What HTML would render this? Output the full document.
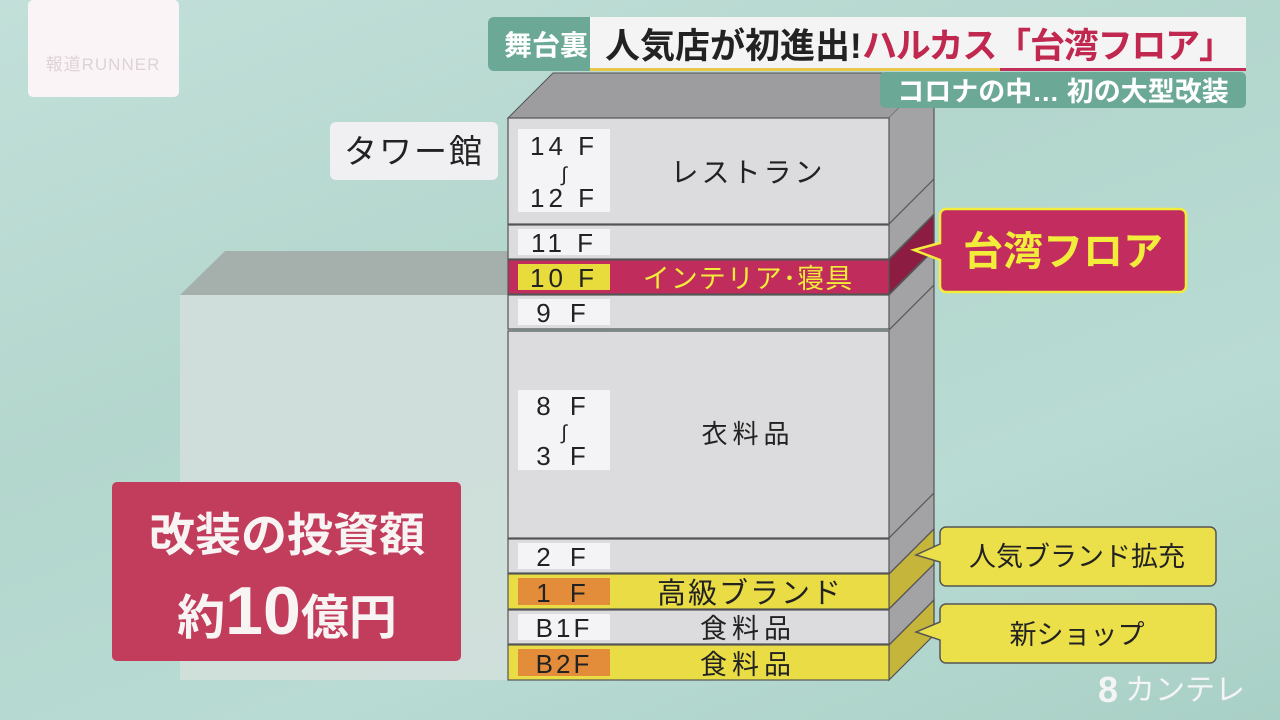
<!DOCTYPE html>
<html><head><meta charset="utf-8"><style>
html,body{margin:0;padding:0;width:1280px;height:720px;overflow:hidden;}
body{background:linear-gradient(160deg,#c2e0d9 0%,#b3d6cd 40%,#b8dbd3 70%,#a9d0c6 100%);}
svg{position:absolute;left:0;top:0;}
text{font-family:"Liberation Sans","Noto Sans CJK JP",sans-serif;}
</style></head><body>
<svg width="1280" height="720" viewBox="0 0 1280 720">
<rect x="28" y="0" width="151" height="97" rx="5" fill="#fbf4f6"/>
<text x="103" y="70" font-size="17" fill="#ddd3d6" text-anchor="middle" letter-spacing="1">報道RUNNER</text>
<polygon points="180,295 225,251 508,251 508,295" fill="#a5b0ad"/>
<rect x="180" y="295" width="328" height="385" fill="#d3dfdc" opacity="0.85"/>
<polygon points="508,118 553,73 934,73 889,118" fill="#9d9c9f" stroke="#555" stroke-width="1"/>
<polygon points="889,118 934,73 934,635 889,680" fill="#a3a2a5"/>
<g stroke="#555" stroke-width="1.2">
<polygon points="889,260 934,215 934,249 889,294" fill="#8c1c42"/>
<polygon points="889,574 934,529 934,564 889,609" fill="#c5b53a"/>
<polygon points="889,645 934,600 934,635 889,680" fill="#c5b53a"/>
<line x1="889" y1="224" x2="934" y2="179"/>
<line x1="889" y1="259" x2="934" y2="214"/>
<line x1="889" y1="295" x2="934" y2="250"/>
<line x1="889" y1="330" x2="934" y2="285"/>
<line x1="889" y1="538" x2="934" y2="493"/>
<line x1="889" y1="574" x2="934" y2="529"/>
<line x1="889" y1="609" x2="934" y2="564"/>
<line x1="889" y1="645" x2="934" y2="600"/>
<line x1="934" y1="73" x2="934" y2="635"/>
<rect x="508" y="118" width="381" height="106" fill="#dcdbdd"/>
<rect x="508" y="225" width="381" height="34" fill="#dcdbdd"/>
<rect x="508" y="260" width="381" height="34" fill="#c02c5c"/>
<rect x="508" y="295" width="381" height="34" fill="#dcdbdd"/>
<rect x="508" y="331" width="381" height="207" fill="#dcdbdd"/>
<rect x="508" y="539" width="381" height="34" fill="#dcdbdd"/>
<rect x="508" y="574" width="381" height="35" fill="#e9dc45"/>
<rect x="508" y="610" width="381" height="34" fill="#dcdbdd"/>
<rect x="508" y="645" width="381" height="35" fill="#e9dc45"/>
</g>
<g font-size="26" fill="#222" text-anchor="middle">
<rect x="518" y="129" width="92" height="83" fill="#f4f4f6"/>
<text x="564" y="155" letter-spacing="4">14 F</text><text x="564" y="181" font-size="20">∫</text><text x="564" y="207" letter-spacing="4">12 F</text>
<rect x="518" y="229" width="92" height="26" fill="#f4f4f6"/><text x="564" y="252" letter-spacing="4">11 F</text>
<rect x="518" y="264" width="92" height="26" fill="#e8dc3c"/><text x="564" y="287" letter-spacing="4">10 F</text>
<rect x="518" y="299" width="92" height="26" fill="#f4f4f6"/><text x="564" y="322" letter-spacing="6">9 F</text>
<rect x="518" y="390" width="92" height="80" fill="#f4f4f6"/>
<text x="564" y="415" letter-spacing="6">8 F</text><text x="564" y="439" font-size="20">∫</text><text x="564" y="465" letter-spacing="6">3 F</text>
<rect x="518" y="543" width="92" height="26" fill="#f4f4f6"/><text x="564" y="566" letter-spacing="6">2 F</text>
<rect x="518" y="578" width="92" height="27" fill="#e38d3b"/><text x="564" y="602" letter-spacing="6">1 F</text>
<rect x="518" y="614" width="92" height="26" fill="#f4f4f6"/><text x="564" y="637" letter-spacing="3">B1F</text>
<rect x="518" y="649" width="92" height="27" fill="#e38d3b"/><text x="564" y="673" letter-spacing="3">B2F</text>
<text x="748" y="182" font-size="28" letter-spacing="3">レストラン</text>
<text x="748" y="288" font-size="27" fill="#f2ec3a" letter-spacing="1">インテリア･寝具</text>
<text x="748" y="443" font-size="26" letter-spacing="5">衣料品</text>
<text x="750" y="603" font-size="29" letter-spacing="2">高級ブランド</text>
<text x="748" y="638" font-size="27" letter-spacing="5">食料品</text>
<text x="748" y="674" font-size="27" letter-spacing="5">食料品</text>
</g>
<rect x="330" y="122" width="168" height="58" rx="6" fill="#f0f0f2"/>
<text x="414" y="163" font-size="33" fill="#222" text-anchor="middle" letter-spacing="2">タワー館</text>
<path d="M946,209 H1180 a6,6 0 0 1 6,6 V286 a6,6 0 0 1 -6,6 H946 a6,6 0 0 1 -6,-6 V260 L914,250 L940,243 V215 a6,6 0 0 1 6,-6 Z" fill="#c22c5e" stroke="#f2ec3a" stroke-width="2.5"/>
<text x="1063" y="265" font-size="40" fill="#f2ec3a" text-anchor="middle" font-weight="bold">台湾フロア</text>
<path d="M946,527 H1210 a6,6 0 0 1 6,6 V580 a6,6 0 0 1 -6,6 H946 a6,6 0 0 1 -6,-6 V562 L916,555 L940,544 V533 a6,6 0 0 1 6,-6 Z" fill="#ebe049" stroke="#555" stroke-width="1.5"/>
<text x="1077" y="566" font-size="27" fill="#222" text-anchor="middle">人気ブランド拡充</text>
<path d="M946,604 H1210 a6,6 0 0 1 6,6 V657 a6,6 0 0 1 -6,6 H946 a6,6 0 0 1 -6,-6 V640 L916,632 L940,622 V610 a6,6 0 0 1 6,-6 Z" fill="#ebe049" stroke="#555" stroke-width="1.5"/>
<text x="1077" y="644" font-size="27" fill="#222" text-anchor="middle">新ショップ</text>
<rect x="112" y="482" width="349" height="179" rx="5" fill="#c23c5c"/>
<text x="287" y="551" font-size="46" fill="#f8f4f4" text-anchor="middle" font-weight="bold">改装の投資額</text>
<text x="287" y="634" font-size="48" fill="#f8f4f4" text-anchor="middle" font-weight="bold">約<tspan font-size="68">10</tspan>億円</text>
<rect x="488" y="17" width="116" height="54" rx="6" fill="#6ba896"/>
<rect x="590" y="17" width="656" height="51" fill="#f4f4f4"/>
<rect x="590" y="68" width="656" height="3" fill="#e7c84a"/>
<rect x="1000" y="68" width="246" height="3" fill="#c0305a"/>
<text x="546" y="55" font-size="28" font-weight="bold" fill="#fff" text-anchor="middle">舞台裏</text>
<text x="605" y="58" font-size="35" font-weight="bold" fill="#222">人気店が初進出!</text>
<text x="862" y="58" font-size="35" font-weight="bold" fill="#c0284f" textLength="372">ハルカス「台湾フロア」</text>
<rect x="880" y="72" width="366" height="36" rx="5" fill="#6ba896"/>
<text x="1063" y="101" font-size="27" font-weight="bold" fill="#fff" text-anchor="middle">コロナの中…  初の大型改装</text>
<text x="1098" y="702" font-size="36" fill="#f4f4f4" font-weight="bold">8</text>
<text x="1125" y="700" font-size="30" fill="#f4f4f4">カンテレ</text>
</svg>
</body></html>
